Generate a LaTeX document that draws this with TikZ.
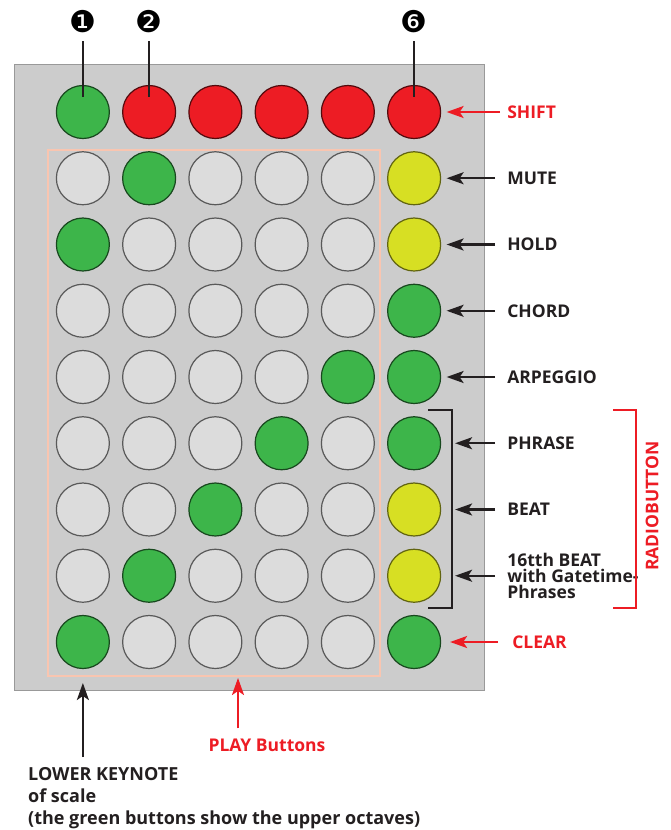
\documentclass[tikz,border=0pt]{standalone}
\usepackage{fontspec}
\setmainfont{Open Sans}
\newfontfamily\dingfont{DejaVu Sans}
\usepackage{tikz}
\usetikzlibrary{matrix,arrows.meta}
\definecolor{padgray}{HTML}{CCCCCC}
\definecolor{keygray}{HTML}{DCDCDC}
\definecolor{keygreen}{HTML}{3DB54A}
\definecolor{keyred}{HTML}{ED1C24}
\definecolor{keyyellow}{HTML}{D7DF23}
\definecolor{playpink}{HTML}{F9C5B0}
\definecolor{inkblack}{HTML}{231F20}
\newcommand*\dotdiam{53pt}
\newcommand*\dotgap {12.05pt}
\tikzset{
    cell/.style   = {draw=black!65,circle,fill=keygray,line width=1.2pt,
                    minimum size=\dotdiam, inner sep=0pt, outer sep=0pt},
    greencell/.style  = {cell,fill=keygreen,draw=black!60!keygreen},
    redcell/.style    = {cell,fill=keyred,draw=black!65!keyred},
    yellowcell/.style = {cell,fill=keyyellow,draw=black!55!keyyellow},
    gridmatrix/.style = {
        matrix of nodes,
        nodes   = {cell},
        column sep=\dotgap, row sep=\dotgap,
        nodes in empty cells,
    },
    lbl/.style    = {anchor=west,inner sep=0pt,text=inkblack,
                    font=\bfseries\fontsize{17.5}{16}\selectfont},
    redlbl/.style = {lbl,text=keyred},
    arr/.style    = {-{Stealth[length=17pt,width=12pt,inset=4pt]},line width=2.2pt,draw=inkblack},
    redarr/.style = {arr,draw=keyred},
    numlbl/.style = {inner sep=0pt,font=\dingfont\fontsize{30}{30}\selectfont},
  }

\begin{document}
\begin{tikzpicture}[x=1pt,y=-1pt]
    \useasboundingbox (0,0) rectangle (671,830);

    % panel and play field
    \draw[fill=padgray,draw=black!40,line width=0.8pt] (14,64) rectangle (484,690);
    \draw[playpink,line width=2pt] (48,150) rectangle (380,676);

    % the 9x6 button grid
    \matrix (M) [gridmatrix] at (248.5,377) {
        % row 1
        |[greencell]| & |[redcell]| & |[redcell]| & |[redcell]| & |[redcell]| & |[redcell]| \\
        % row 2
        |[cell]| & |[greencell]| & |[cell]| & |[cell]| & |[cell]| & |[yellowcell]| \\
        % row 3
        |[greencell]| & |[cell]| & |[cell]| & |[cell]| & |[cell]| & |[yellowcell]| \\
        % row 4
        |[cell]| & |[cell]| & |[cell]| & |[cell]| & |[cell]| & |[greencell]| \\
        % row 5
        |[cell]| & |[cell]| & |[cell]| & |[cell]| & |[greencell]| & |[greencell]| \\
        % row 6
        |[cell]| & |[cell]| & |[cell]| & |[greencell]| & |[cell]| & |[greencell]| \\
        % row 7
        |[cell]| & |[cell]| & |[greencell]| & |[cell]| & |[cell]| & |[yellowcell]| \\
        % row 8
        |[cell]| & |[greencell]| & |[cell]| & |[cell]| & |[cell]| & |[yellowcell]| \\
        % row 9
        |[greencell]| & |[cell]| & |[cell]| & |[cell]| & |[cell]| & |[greencell]| \\
    };

    % column numbers on top
    \foreach \c/\n in {1/❶,2/❷,6/❻} {
        \node[numlbl] (num\c) at (M-1-\c |- 0,22) {\n};
        \draw[line width=2pt,inkblack,shorten <=8pt] (num\c.south) -- ([yshift=15pt]M-1-\c.center);
    }

    % labels on the right
    \node[redlbl] (shift) at ([xshift=66.5pt]M-1-6.east) {SHIFT};
    \draw[redarr,shorten <=7pt] (shift.west) -- ([xshift=6pt]M-1-6.east);
    \foreach \r/\t in {2/MUTE,3/HOLD,4/CHORD,5/ARPEGGIO} {
        \node[lbl] (lab\r) at ([xshift=66.5pt]M-\r-6.east) {\t};
        \draw[arr,shorten <=12pt] (lab\r.west) -- ([xshift=6pt]M-\r-6.east);
    }
    \node[lbl] (lab6) at ([xshift=66.5pt]M-6-6.east) {PHRASE};
    \node[lbl] (lab7) at ([xshift=66.5pt]M-7-6.east) {BEAT};
    \node[lbl,align=left,font=\bfseries\fontsize{17.5}{16}\selectfont] (lab8)
        at ([xshift=66.5pt]M-8-6.east) {16tth BEAT\\with Gatetime-\\Phrases};
    \foreach \r in {6,7,8} {
        \draw[arr,shorten <=12pt] (lab\r.west) -- ([xshift=14.5pt]M-\r-6.east);
    }
    \node[redlbl] (clear) at ([xshift=71.5pt]M-9-6.east) {CLEAR};
    \draw[redarr,shorten <=14pt] (clear.west) -- ([xshift=9.5pt]M-9-6.east);

    % brackets
    \draw[inkblack,line width=2pt] (428,410) -| (452,608) -- (428,608);
    \draw[keyred,line width=2pt] (613,410) -| (636,608) -- (613,608);
    \node[redlbl,anchor=center,rotate=90] (radio) at (652,506) {RADIOBUTTON};

    % labels below
    \coordinate (playtip) at (238,678);
    \node[redlbl,anchor=center] (play) at (267,745) {PLAY Buttons};
    \draw[redarr,shorten <=10pt] (play.north -| playtip) -- (playtip);
    \node[lbl,anchor=north west,align=left,font=\bfseries\fontsize{18}{22}\selectfont] (keynote)
        at (28,767) {LOWER KEYNOTE\\of scale\\(the green buttons show the upper octaves)};
    \draw[arr,shorten <=10pt] (keynote.north -| M-9-1.south) -- ([yshift=-14.5pt]M-9-1.south);
\end{tikzpicture}
\end{document}
